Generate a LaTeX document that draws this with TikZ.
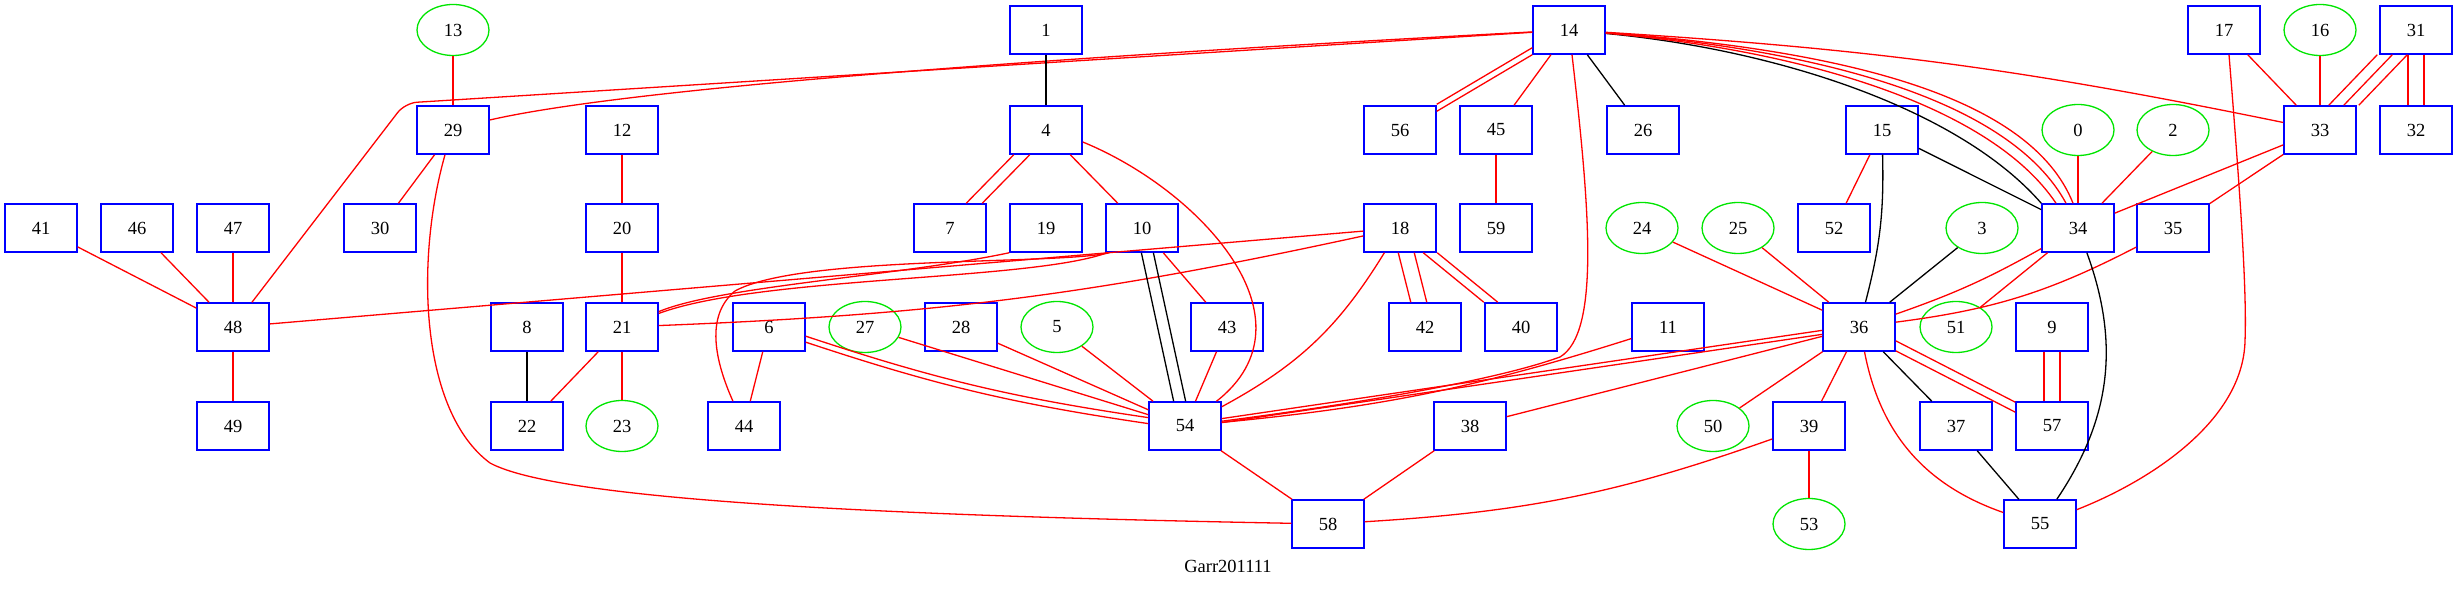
\documentclass[tikz,border=0pt]{standalone}
\usepackage{fontspec}
\setmainfont{Liberation Serif}
\usepackage{xcolor}
\usepackage{tikz}
\usetikzlibrary{shapes.geometric}

\begin{document}
\begin{tikzpicture}[x=1pt,y=1pt,
  bx/.style={draw=blue, line width=1.5pt, minimum width=72pt, minimum height=48pt, inner sep=0pt, font=\fontsize{18.5}{22}\selectfont},
  ov/.style={ellipse, draw=green!90!black, line width=1.3pt, minimum width=72pt, minimum height=51pt, inner sep=0pt, font=\fontsize{18.5}{22}\selectfont},
  lbl/.style={font=\fontsize{18.5}{22}\selectfont},
  rd/.style={draw=red, line width=1.3pt},
  bk/.style={draw=black, line width=1.3pt},
]
\useasboundingbox (0,0) rectangle (2457,591);
% row 1
\node[ov] (n13) at (453,561) {13};
\node[bx] (n1) at (1046,561) {1};
\node[bx] (n14) at (1569,561) {14};
\node[bx] (n17) at (2224,561) {17};
\node[ov] (n16) at (2320,561) {16};
\node[bx] (n31) at (2416,561) {31};
% row 2
\node[bx] (n29) at (453,461) {29};
\node[bx] (n12) at (622,461) {12};
\node[bx] (n4) at (1046,461) {4};
\node[bx] (n56) at (1400,461) {56};
\node[bx] (n45) at (1496,461) {45};
\node[bx] (n26) at (1643,461) {26};
\node[bx] (n15) at (1882,461) {15};
\node[ov] (n0) at (2078,461) {0};
\node[ov] (n2) at (2173,461) {2};
\node[bx] (n33) at (2320,461) {33};
\node[bx] (n32) at (2416,461) {32};
% row 3
\node[bx] (n41) at (41,363) {41};
\node[bx] (n46) at (137,363) {46};
\node[bx] (n47) at (233,363) {47};
\node[bx] (n30) at (380,363) {30};
\node[bx] (n20) at (622,363) {20};
\node[bx] (n7) at (950,363) {7};
\node[bx] (n19) at (1046,363) {19};
\node[bx] (n10) at (1142,363) {10};
\node[bx] (n18) at (1400,363) {18};
\node[bx] (n59) at (1496,363) {59};
\node[ov] (n24) at (1642,363) {24};
\node[ov] (n25) at (1738,363) {25};
\node[bx] (n52) at (1834,363) {52};
\node[ov] (n3) at (1982,363) {3};
\node[bx] (n34) at (2078,363) {34};
\node[bx] (n35) at (2173,363) {35};
% row 4
\node[bx] (n48) at (233,264) {48};
\node[bx] (n8) at (527,264) {8};
\node[bx] (n21) at (622,264) {21};
\node[bx] (n6) at (769,264) {6};
\node[ov] (n27) at (865,264) {27};
\node[bx] (n28) at (961,264) {28};
\node[ov] (n5) at (1057,264) {5};
\node[bx] (n43) at (1227,264) {43};
\node[bx] (n42) at (1425,264) {42};
\node[bx] (n40) at (1521,264) {40};
\node[bx] (n11) at (1668,264) {11};
\node[bx] (n36) at (1859,264) {36};
\node[ov] (n51) at (1956,264) {51};
\node[bx] (n9) at (2052,264) {9};
% row 5
\node[bx] (n49) at (233,165) {49};
\node[bx] (n22) at (527,165) {22};
\node[ov] (n23) at (622,165) {23};
\node[bx] (n44) at (744,165) {44};
\node[bx] (n54) at (1185,165) {54};
\node[bx] (n38) at (1470,165) {38};
\node[ov] (n50) at (1713,165) {50};
\node[bx] (n39) at (1809,165) {39};
\node[bx] (n37) at (1956,165) {37};
\node[bx] (n57) at (2052,165) {57};
% row 6
\node[bx] (n58) at (1328,67) {58};
\node[ov] (n53) at (1809,67) {53};
\node[bx] (n55) at (2040,67) {55};
% title
\node[lbl] (title) at (1228,25) {Garr201111};
% edges from 14
\draw[rd, rounded corners=12pt] (n14) -- (405,488) -- (n48);
\draw[rd] (n14) .. controls (1000,531) and (620,501) .. ([yshift=10pt]n29.east);
\draw[rd, transform canvas={yshift=4pt}] (n14) -- (n56);
\draw[rd, transform canvas={yshift=-3pt}] (n14) -- (n56);
\draw[rd] (n14) -- (n45);
\draw[bk] (n14) -- (n26);
\draw[rd] ([xshift=3pt]n14.south) .. controls (1590,380) and (1600,258) .. (1560,234) .. controls (1480,205) and (1300,180) .. (n54);
\draw[bk] (n14) .. controls (1780,541) and (1960,481) .. (n34.north west);
\draw[rd] (n14) .. controls (1800,541) and (1990,486) .. ([xshift=-22pt]n34.north);
\draw[rd] (n14) .. controls (1820,541) and (2010,491) .. ([xshift=-12pt]n34.north);
\draw[rd] (n14) .. controls (1840,541) and (2030,496) .. ([xshift=-5pt]n34.north);
\draw[rd] (n14) to[bend left=4] (n33);
% left part
\draw[rd] (n13) -- (n29);
\draw[rd] (n29) -- (n30);
\draw[rd] ([xshift=-8pt]n29.south) .. controls (415,330) and (420,180) .. (490,128) .. controls (560,90) and (900,75) .. (n58);
\draw[rd] (n41) -- (n48);
\draw[rd] (n46) -- (n48);
\draw[rd] (n47) -- (n48);
\draw[rd] (n48) -- (n49);
\draw[rd] (n48) -- (n18);
\draw[rd] (n12) -- (n20);
\draw[rd] (n20) -- (n21);
\draw[rd] (n21) -- (n22);
\draw[rd] (n21) -- (n23);
\draw[bk] (n8) -- (n22);
\draw[rd] (n21) to[bend right=5] (n18);
\draw[rd] (n19.south west) .. controls (900,315) and (720,305) .. (n21);
\draw[rd] ([xshift=2pt]n10.south west) .. controls (1030,310) and (760,315) .. (n21);
\draw[rd] ([xshift=4pt]n10.south west) .. controls (1060,326) and (800,336) .. (735,300) .. controls (705,275) and (715,230) .. (n44);
\draw[rd] (n6) -- (n44);
% 1, 4, 10
\draw[bk] (n1) -- (n4);
\draw[rd, transform canvas={xshift=-8pt}] (n4) -- (n7);
\draw[rd, transform canvas={xshift=8pt}] (n4) -- (n7);
\draw[rd] (n4) -- (n10);
\draw[rd] ([yshift=-12pt]n4.east) .. controls (1200,401) and (1320,271) .. (n54);
\draw[rd] (n10) -- (n43);
\draw[bk, transform canvas={xshift=-6pt}] (n10) -- (n54);
\draw[bk, transform canvas={xshift=6pt}] (n10) -- (n54);
% into 54 and 58
\draw[rd, transform canvas={yshift=3pt}] (n6) to[bend right=5] (n54);
\draw[rd, transform canvas={yshift=-3pt}] (n6) to[bend right=5] (n54);
\draw[rd] (n27) -- (n54);
\draw[rd] (n28) -- (n54);
\draw[rd] (n5) -- (n54);
\draw[rd] (n43) -- (n54);
\draw[rd] (n18) to[bend left=15] (n54);
\draw[rd, transform canvas={yshift=2pt}] (n36) -- (n54);
\draw[rd, transform canvas={yshift=-2pt}] (n36) -- (n54);
\draw[rd] (n11) to[bend left=6] (n54);
\draw[rd] (n54) -- (n58);
\draw[rd] (n38) -- (n58);
\draw[rd] (n39) to[bend left=8] (n58);
\draw[rd] (n36) -- (n38);
% 18, 45
\draw[rd, transform canvas={xshift=-8pt}] (n18) -- (n42);
\draw[rd, transform canvas={xshift=8pt}] (n18) -- (n42);
\draw[rd, transform canvas={xshift=-7pt}] (n18) -- (n40);
\draw[rd, transform canvas={xshift=7pt}] (n18) -- (n40);
\draw[rd] (n45) -- (n59);
% right part
\draw[rd] (n15) -- (n52);
\draw[bk] (n15) -- (n34);
\draw[bk] (n15) to[bend left=8] (n36);
\draw[rd] (n0) -- (n34);
\draw[rd] (n2) -- (n34);
\draw[rd] (n33) -- (n34);
\draw[rd] (n33) -- (n35);
\draw[rd] (n16) -- (n33);
\draw[rd] (n17) -- (n33);
\draw[rd, transform canvas={xshift=-15pt}] (n31) -- (n33);
\draw[rd] (n31) -- (n33);
\draw[rd, transform canvas={xshift=15pt}] (n31) -- (n33);
\draw[rd, transform canvas={xshift=-8pt}] (n31) -- (n32);
\draw[rd, transform canvas={xshift=8pt}] (n31) -- (n32);
\draw[rd] (n34) to[bend left=5] (n36);
\draw[rd] (n35) to[bend left=10] (n36);
\draw[rd] (n34) -- (n51);
\draw[bk] (n3) -- (n36);
\draw[rd] (n24) -- (n36);
\draw[rd] (n25) -- (n36);
\draw[bk] (n34) to[bend left=27] (n55);
\draw[rd] (n36) to[bend right=30] (n55);
\draw[rd] (n36) -- (n50);
\draw[rd] (n36) -- (n39);
\draw[bk] (n36) -- (n37);
\draw[bk] (n37) -- (n55);
\draw[rd, transform canvas={yshift=5pt}] (n36) -- (n57);
\draw[rd, transform canvas={yshift=-5pt}] (n36) -- (n57);
\draw[rd, transform canvas={xshift=-8pt}] (n9) -- (n57);
\draw[rd, transform canvas={xshift=8pt}] (n9) -- (n57);
\draw[rd] (n39) -- (n53);
\draw[rd] ([xshift=5pt]n17.south) .. controls (2240,400) and (2247,300) .. (2245,250) .. controls (2243,170) and (2150,110) .. (n55);
\end{tikzpicture}
\end{document}
